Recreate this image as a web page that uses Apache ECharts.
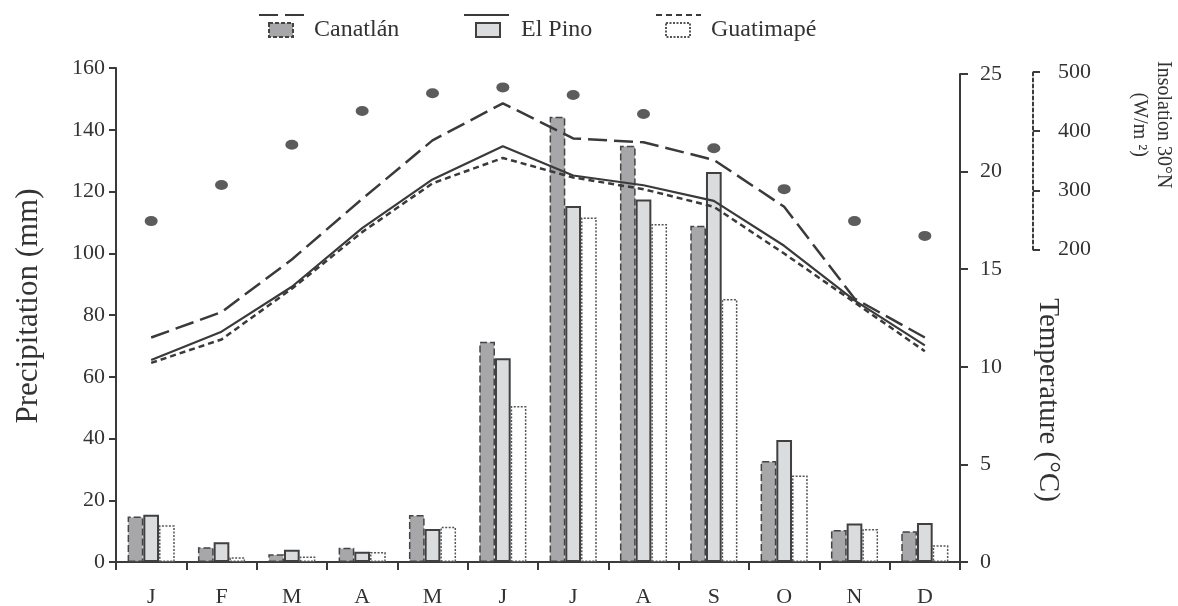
<!DOCTYPE html>
<html>
<head>
<meta charset="utf-8">
<script src="https://cdn.jsdelivr.net/npm/echarts@6/dist/echarts.min.js"></script>
<style>
  html, body { margin: 0; padding: 0; background: #fff; }
  #chart { width: 1178px; height: 606px; }
</style>
</head>
<body>
<div id="chart"></div>
<script>
const months = ['J', 'F', 'M', 'A', 'M', 'J', 'J', 'A', 'S', 'O', 'N', 'D']

// precipitation (mm)
const precipCanatlan = [14.7, 4.8, 2.5, 4.6, 15.2, 71.3, 144.2, 134.8, 108.9, 32.7, 10.4, 10.0]
const precipElPino = [15.3, 6.4, 4.0, 3.3, 10.7, 66.0, 115.3, 117.4, 126.3, 39.5, 12.5, 12.6]
const precipGuatimape = [11.9, 1.5, 1.8, 3.2, 11.4, 50.5, 111.6, 109.5, 85.2, 28.0, 10.7, 5.4]

// temperature (°C)
const tempCanatlan = [11.5, 12.8, 15.5, 18.6, 21.6, 23.5, 21.7, 21.5, 20.6, 18.2, 13.5, 11.5]
const tempElPino = [10.35, 11.8, 14.1, 17.1, 19.6, 21.3, 19.8, 19.3, 18.5, 16.2, 13.4, 11.1]
const tempGuatimape = [10.2, 11.4, 14.0, 16.9, 19.4, 20.7, 19.7, 19.1, 18.2, 15.8, 13.3, 10.8]

// insolation 30°N (W/m2)
const insolation = [248, 309, 377, 434, 464, 474, 461, 429, 371, 302, 248, 223]

const font = 'Liberation Serif'
const ink = '#3a3a3a'
const txt = '#333'

const chart = echarts.init(document.getElementById('chart'))

const axisLine = { show: true, lineStyle: { color: ink, width: 2 } }
const tickStyle = { color: ink, width: 2 }

function barLegend(name, left, border) {
  return {
    data: [{ name: name, itemStyle: { borderType: border } }],
    left: left, top: 18, padding: 0, icon: 'rect',
    itemWidth: 24, itemHeight: 14, selectedMode: false,
    textStyle: { fontFamily: font, fontSize: 24, color: txt, padding: [0, 0, 0, 16] }
  }
}
function lineLegend(name, left) {
  return {
    data: [name], left: left, top: 8, padding: 0,
    itemWidth: 45, itemHeight: 14, selectedMode: false,
    formatter: () => '', itemStyle: { opacity: 0 },
    textStyle: { fontSize: 1 }
  }
}

chart.setOption({
  animation: false,
  backgroundColor: '#fff',
  legend: [
    barLegend('Canatlán', 268, [4, 2]),
    barLegend('El Pino', 475, 'solid'),
    barLegend('Guatimapé', 665, [2, 1.5]),
    lineLegend('Canatlán T', 258),
    lineLegend('El Pino T', 463),
    lineLegend('Guatimapé T', 655)
  ],
  grid: [
    { left: 116, right: 218, top: 68, bottom: 44, outerBoundsMode: 'none' },
    { left: 116, right: 218, top: 74, bottom: 44, outerBoundsMode: 'none' },
    { left: 116, right: 218, top: 72, height: 177.5, outerBoundsMode: 'none' }
  ],
  xAxis: [
    {
      type: 'category', gridIndex: 0, data: months,
      axisLine: axisLine,
      axisTick: { show: true, length: 8, lineStyle: tickStyle },
      axisLabel: { fontFamily: font, fontSize: 22, color: txt, margin: 24 }
    },
    { type: 'category', gridIndex: 1, data: months, show: false },
    { type: 'category', gridIndex: 2, data: months, show: false }
  ],
  yAxis: [
    {
      type: 'value', gridIndex: 0, min: 0, max: 160, interval: 20,
      name: 'Precipitation (mm)', nameLocation: 'middle', nameGap: 72, nameRotate: 90,
      nameTextStyle: { fontFamily: font, fontSize: 31, color: txt, padding: [0, 0, 0, 18] },
      axisLine: axisLine,
      axisTick: { show: true, length: 7, lineStyle: tickStyle },
      axisLabel: { fontFamily: font, fontSize: 22, color: txt, margin: 11 },
      splitLine: { show: false }
    },
    {
      type: 'value', gridIndex: 1, position: 'right', min: 0, max: 25, interval: 5,
      name: 'Temperature (°C)', nameLocation: 'middle', nameGap: 73, nameRotate: -90,
      nameTextStyle: { fontFamily: font, fontSize: 29, color: txt, padding: [0, 0, 0, 164] },
      axisLine: axisLine,
      axisTick: { show: true, length: 8, lineStyle: tickStyle },
      axisLabel: { fontFamily: font, fontSize: 22, color: txt, margin: 20 },
      splitLine: { show: false }
    },
    {
      type: 'value', gridIndex: 2, position: 'right', offset: 73, min: 200, max: 500, interval: 100,
      name: 'Insolation 30°N\n(W/m ²)', nameLocation: 'middle', nameGap: 94, nameRotate: -90,
      nameTextStyle: { fontFamily: font, fontSize: 20, color: txt, lineHeight: 24, align: 'center', padding: [0, 72, 0, 0] },
      axisLine: { show: true, lineStyle: { color: ink, width: 2, type: [3, 3] } },
      axisTick: { show: true, length: 7, lineStyle: tickStyle },
      axisLabel: { fontFamily: font, fontSize: 22, color: txt, margin: 25 },
      splitLine: { show: false }
    }
  ],
  series: [
    {
      name: 'Canatlán', type: 'bar', xAxisIndex: 0, yAxisIndex: 0,
      data: precipCanatlan, barGap: '0%', barCategoryGap: '33%',
      itemStyle: { color: '#a7a7a9', borderColor: '#444', borderWidth: 1.5, borderType: [7, 3] }
    },
    {
      name: 'El Pino', type: 'bar', xAxisIndex: 0, yAxisIndex: 0,
      data: precipElPino, barGap: '0%', barCategoryGap: '33%',
      itemStyle: { color: '#dbdcde', borderColor: '#404040', borderWidth: 2 }
    },
    {
      name: 'Guatimapé', type: 'bar', xAxisIndex: 0, yAxisIndex: 0,
      data: precipGuatimape, barGap: '0%', barCategoryGap: '33%',
      itemStyle: { color: '#fff', borderColor: '#555', borderWidth: 1.5, borderType: [2, 1.5] }
    },
    {
      name: 'Canatlán T', type: 'line', xAxisIndex: 1, yAxisIndex: 1, z: 5,
      data: tempCanatlan, symbol: 'none', itemStyle: { color: ink },
      lineStyle: { color: ink, width: 2.5, type: [19, 7] }
    },
    {
      name: 'El Pino T', type: 'line', xAxisIndex: 1, yAxisIndex: 1, z: 5,
      data: tempElPino, symbol: 'none', itemStyle: { color: ink },
      lineStyle: { color: ink, width: 2.2 }
    },
    {
      name: 'Guatimapé T', type: 'line', xAxisIndex: 1, yAxisIndex: 1, z: 5,
      data: tempGuatimape, symbol: 'none', itemStyle: { color: ink },
      lineStyle: { color: ink, width: 2.5, type: [6, 4] }
    },
    {
      name: 'Insolation', type: 'scatter', xAxisIndex: 2, yAxisIndex: 2, z: 6,
      data: insolation, symbol: 'circle', symbolSize: [13, 10],
      itemStyle: { color: '#333' }
    }
  ]
})
</script>
</body>
</html>
